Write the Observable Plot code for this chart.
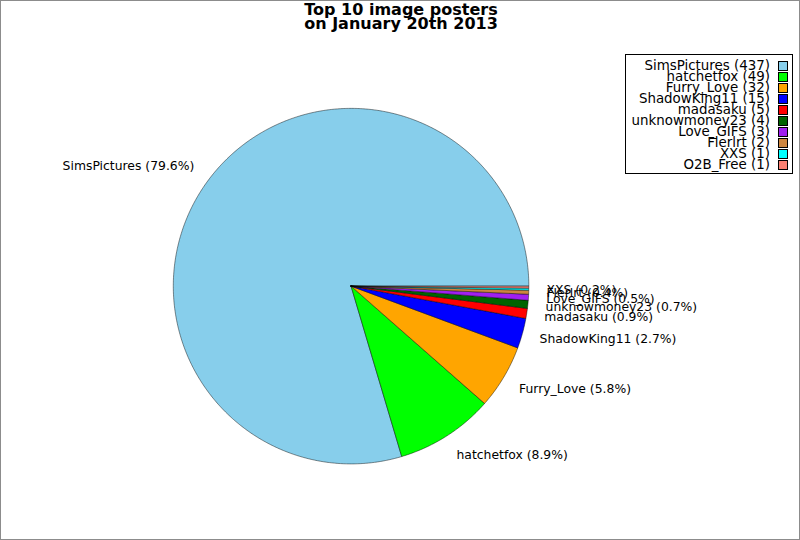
<!DOCTYPE html>
<html>
<head>
<meta charset="utf-8">
<script src="https://cdn.jsdelivr.net/npm/d3@7"></script>
<script src="https://cdn.jsdelivr.net/npm/@observablehq/plot@0.6"></script>
<style>
  html, body { margin: 0; padding: 0; background: #fff; }
  #wrap { position: relative; width: 800px; height: 540px; box-sizing: border-box; border: 1px solid #8c8c8c; overflow: hidden; font-family: "DejaVu Sans", sans-serif; }
  #chart { position: absolute; left: -1px; top: -1px; }
  #title { position: absolute; left: 0; width: 800px; top: 2px; text-align: center; font-weight: bold; font-size: 16px; line-height: 14px; color: #000; }
  #legend { position: absolute; left: 624px; top: 53px; width: 166px; height: 118px; border: 1px solid #000; background: #fff; }
  .row { position: absolute; right: 22px; font-size: 13.4px; line-height: 11px; white-space: nowrap; color: #000; }
  .sw { position: absolute; width: 8px; height: 8px; border: 1px solid #000; }
</style>
</head>
<body>
<div id="wrap">
  <div id="chart"></div>
  <div id="title">Top 10 image posters<br>on January 20th 2013</div>
  <div id="legend"></div>
</div>
<script>
const names = ["SimsPictures", "hatchetfox", "Furry_Love", "ShadowKing11", "madasaku", "unknowmoney23", "Love_GIFS", "Flerlrt", "XXS", "O2B_Free"];
const counts = [437, 49, 32, 15, 5, 4, 3, 2, 1, 1];
const colors = ["#87ceeb", "#00ff00", "#ffa500", "#0000ff", "#ff0000", "#006400", "#a020f0", "#cd853f", "#00ffff", "#fa8072"];

const total = d3.sum(counts);
let cum = 0;
const slices = names.map((name, i) => {
  const a0 = cum / total * 2 * Math.PI;
  cum += counts[i];
  const a1 = cum / total * 2 * Math.PI;
  return {name, count: counts[i], pct: counts[i] / total * 100, a0, a1, color: colors[i]};
});

// polygon points for each slice (unit circle, counterclockwise from 3 o'clock)
function slicePoints(s) {
  const pts = [{x: 0, y: 0}];
  const n = Math.max(2, Math.ceil((s.a1 - s.a0) / (Math.PI / 360)));
  for (let k = 0; k <= n; k++) {
    const a = s.a0 + (s.a1 - s.a0) * k / n;
    pts.push({x: Math.cos(a), y: Math.sin(a)});
  }
  pts.push({x: 0, y: 0});
  return pts;
}

const labelR = 1.1;
const labels = slices.slice(0, 9).map(s => {
  const m = (s.a0 + s.a1) / 2;
  return {
    text: `${s.name} (${s.pct.toFixed(1)}%)`,
    x: labelR * Math.cos(m),
    y: labelR * Math.sin(m) + 0.03 * Math.sin(m),
    right: Math.cos(m) >= 0
  };
});

const R = 178, cx = 351, cy = 286, W = 800, H = 540;
const marks = slices.map(s => Plot.line(slicePoints(s), {
  x: "x", y: "y", fill: s.color, stroke: "#000", strokeWidth: 0.45, curve: "linear", strokeLinejoin: "miter"
}));
marks.push(Plot.text(labels.filter(d => d.right), {x: "x", y: "y", text: "text", textAnchor: "start", fontSize: 12.4, fill: "#000"}));
marks.push(Plot.text(labels.filter(d => !d.right), {x: "x", y: "y", text: "text", textAnchor: "end", fontSize: 12.4, fill: "#000"}));

const chart = Plot.plot({
  width: W, height: H,
  margin: 0,
  style: {fontFamily: "DejaVu Sans, sans-serif", background: "transparent"},
  x: {domain: [-cx / R, (W - cx) / R], range: [0, W], axis: null},
  y: {domain: [-(H - cy) / R, cy / R], range: [H, 0], axis: null},
  marks
});
document.getElementById("chart").appendChild(chart);

const legend = document.getElementById("legend");
names.forEach((n, i) => {
  const row = document.createElement("div");
  row.className = "row";
  row.style.top = (5 + i * 11) + "px";
  row.textContent = `${n} (${counts[i]})`;
  legend.appendChild(row);
  const sw = document.createElement("div");
  sw.className = "sw";
  sw.style.left = "152px";
  sw.style.top = (6 + i * 11) + "px";
  sw.style.background = colors[i];
  legend.appendChild(sw);
});
</script>
</body>
</html>
